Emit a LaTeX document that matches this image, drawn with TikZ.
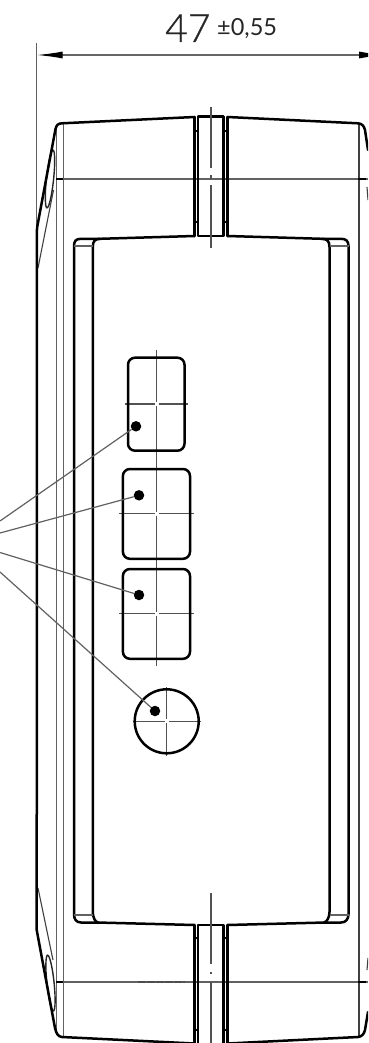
\documentclass[tikz,border=0pt]{standalone}
\usepackage{fontspec}
\setmainfont{Lato Light}
\newfontfamily\tolfont{Lato}
\newfontfamily\dimfont[FakeBold=0.6]{Lato Light}
\usetikzlibrary{arrows.meta}
\tikzset{
  heavy/.style={line width=2.5pt,black,line join=round,line cap=round},
  medium/.style={line width=2pt,black,line join=round},
  fine/.style={line width=1.3pt,black!62},
  finer/.style={line width=1.1pt,black!75},
  leaderline/.style={line width=1.2pt,black!62},
  centerline/.style={line width=1.2pt,black!68},
  spot/.style={circle,fill=black,inner sep=0pt,minimum size=10.5pt},
  plate/.style={heavy,rounded corners=7pt},
  dimtext/.style={inner sep=0pt,anchor=base west}
}
\begin{document}
\begin{tikzpicture}[x=1pt,y=-1pt]
\useasboundingbox (0,0) rectangle (368,1043);
\clip (0,0) rectangle (368,1043);
\fill[white] (0,0) rectangle (368,1043);
% dimension
\coordinate (dimL) at (36.7,55);
\coordinate (dimR) at (385,55);
\coordinate (extTop) at (36.7,43);
\coordinate (extBot) at (36.7,232);
\draw[fine] (extTop) -- (extBot);
\draw[line width=1.2pt,black!60,{Latex[length=26pt,width=7pt,black]}-{Latex[length=26pt,width=7pt,black]}] (dimL) -- (dimR);
\node[dimtext,font=\dimfont\fontsize{39}{39}\selectfont,text=black!85] (dimval) at (165,42) {47};
\node[dimtext,font=\tolfont\fontsize{23.5}{24}\selectfont,text=black!85] (dimtol) at (217,36) {±0,55};
% thin vertical lines
\draw[fine] (56.5,126) -- (56.5,1030);
\draw[fine] (63.5,123.5) -- (63.5,1037);
\draw[finer] (359,123.5) -- (359,1037);
\draw[fine] (56,179) -- (368,179);
\draw[fine] (56,982) -- (368,982);
\draw[medium] (56,179) -- (63,179) (358,179) -- (366,179);
\draw[medium] (56,982) -- (63,982) (358,982) -- (366,982);
\draw[line width=1.5pt,black!70,dash pattern=on 8pt off 1pt] (138,982) -- (185,982);
% chamfer thin lines and ellipses
\draw[finer] (38,268) -- (53.5,190);
\draw[finer] (38,888) -- (53,960);
\draw[line width=1.4pt,black!85,rotate around={-6:(50,179)}] (50,179) ellipse (3.6pt and 29pt);
\draw[line width=1.4pt,black!85,rotate around={6:(50.5,983)}] (50.5,983) ellipse (3.6pt and 28pt);
\draw[finer] (367,187) -- (368,200);
\draw[finer] (367,970) -- (368,958);
% outer body
\draw[heavy] (194.5,117) -- (62,123.3) .. controls (58,123.5) and (56.5,125) .. (55.5,129) -- (37,228) -- (36.7,930) -- (55,1028) .. controls (56.5,1034) and (58,1036.5) .. (62,1037) -- (194.5,1043.5);
\draw[heavy] (227.5,117) -- (358,123.3) .. controls (362,123.5) and (364,126) .. (365,130) -- (368,150);
\draw[heavy] (227.5,1043.5) -- (358,1037) .. controls (362,1036.5) and (364,1034) .. (365,1030) -- (368,1012);
% top notch
\draw[heavy] (194.5,117) -- (194.5,236);
\draw[heavy] (227.5,117) -- (227.5,236);
\draw[heavy] (198,236) -- (198,116.5) -- (223.5,116.5) -- (223.5,236) -- cycle;
\draw[medium] (194.5,131) -- (198,131) (194.5,222) -- (198,222) (223.5,131) -- (227.5,131) (223.5,222) -- (227.5,222);
\draw[centerline] (211,107) -- (211,168) (211,175) -- (211,179) (211,185) -- (211,248);
% bottom notch
\draw[heavy] (194.5,925) -- (194.5,1043.5);
\draw[heavy] (227.5,925) -- (227.5,1043.5);
\draw[heavy] (198,1044) -- (198,925) -- (223.5,925) -- (223.5,1044);
\draw[medium] (194.5,938) -- (198,938) (194.5,1030) -- (198,1030) (223.5,938) -- (227.5,938) (223.5,1030) -- (227.5,1030);
\draw[centerline] (211,893) -- (211,964) (211,972) -- (211,974) (211,982) -- (211,1043);
% inner panel
\draw[heavy] (194.5,236) -- (100,238.8) -- (81,238.8) .. controls (76,238.8) and (74,241) .. (74,246) -- (74,914) .. controls (74,919) and (76,922.5) .. (81,922.5) -- (97,922.5) -- (194.5,925);
\draw[heavy] (227.5,236) -- (322,238.8) -- (341,238.8) .. controls (346,238.8) and (348.5,241) .. (348.5,246) -- (348.5,914) .. controls (348.5,919) and (346,922.5) .. (341,922.5) -- (325,922.5) -- (227.5,925);
\draw[heavy] (100,238.8) .. controls (95,239) and (92.8,241) .. (92.8,247) -- (92.8,912) .. controls (92.8,917) and (95,922) .. (98,922.5);
\draw[heavy] (322,238.8) .. controls (327,239) and (329.5,241) .. (329.5,247) -- (329.5,912) .. controls (329.5,917) and (327,922) .. (324,922.5);
\draw[fine] (74,246) -- (92.8,246) (329.5,246) -- (348.5,246);
\draw[fine] (74,915) -- (92.8,915) (329.5,915) -- (348.5,915);
% centre lines
\draw[centerline] (156.5,350) -- (156.5,402) (156.5,406) -- (156.5,511.5) (156.5,515.5) -- (156.5,611.5) (156.5,615.5) -- (156.5,666);
\draw[centerline] (125,404) -- (154.5,404) (158.5,404) -- (188,404);
\draw[centerline] (119,513.5) -- (154.5,513.5) (158.5,513.5) -- (194,513.5);
\draw[centerline] (119,613.7) -- (154.5,613.7) (158.5,613.7) -- (194,613.7);
\draw[centerline] (133,721.3) -- (164.7,721.3) (168.7,721.3) -- (201,721.3);
\draw[centerline] (166.7,687) -- (166.7,719.3) (166.7,723.3) -- (166.7,756);
% openings
\draw[plate] (128,357.7) rectangle (184.5,450.7);
\draw[plate] (122.9,469) rectangle (190,558.8);
\draw[plate] (122.9,569) rectangle (190,658.8);
\draw[heavy] (166.7,721.3) circle (32pt);
% dots
\node[spot] (d1) at (136,426.3) {};
\node[spot] (d2) at (139,495.3) {};
\node[spot] (d3) at (139,595) {};
\node[spot] (d4) at (155,711) {};
% leaders
\coordinate (f1) at (0,521);
\coordinate (f2) at (0,533);
\coordinate (f3) at (0,552.5);
\coordinate (f4) at (0,572);
\draw[leaderline] (f1) -- (d1);
\draw[leaderline] (f2) -- (d2);
\draw[leaderline] (f3) -- (d3);
\draw[leaderline] (f4) -- (d4);
\end{tikzpicture}
\end{document}
